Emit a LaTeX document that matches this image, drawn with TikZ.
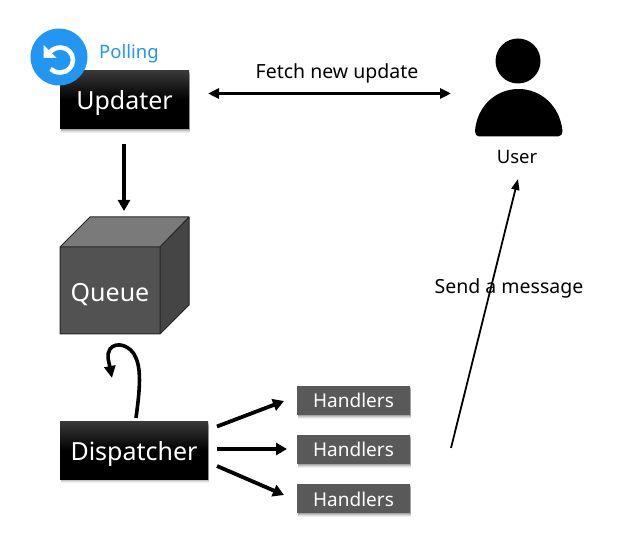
\documentclass[tikz,border=0pt]{standalone}
\usepackage{fontspec}
\setmainfont{Noto Sans}
\usetikzlibrary{arrows.meta,shadows,calc}
\definecolor{poll}{HTML}{2196F3}
\definecolor{hand}{HTML}{595959}
\newcommand{\lowered}[2]{\raisebox{-#1}[0pt][0pt]{#2}}
\tikzset{
  softshadow/.style={
    general shadow={shadow xshift=0.5pt,shadow yshift=-4pt,fill=black,opacity=.06},
    general shadow={shadow xshift=1pt,shadow yshift=-3pt,fill=black,opacity=.08},
    general shadow={shadow xshift=1pt,shadow yshift=-2pt,fill=black,opacity=.12},
    general shadow={shadow xshift=1pt,shadow yshift=-1pt,fill=black,opacity=.16}},
  blackbox/.style={inner sep=0pt,outer sep=0pt,text=white,font=\fontsize{25}{25}\selectfont,top color=black!78,bottom color=black,middle color=black,softshadow},
  handbox/.style={fill=hand,inner sep=0pt,outer sep=0pt,minimum width=113pt,minimum height=29pt,text=white,font=\fontsize{19}{19}\selectfont,softshadow},
  label/.style={inner sep=0pt,font=\fontsize{19.5}{19.5}\selectfont},
  thick arrow/.style={line width=3.8pt,-{Triangle[length=11pt,width=12pt]}},
  thin arrow/.style={line width=1.8pt,-{Triangle[length=11pt,width=8pt]}}
}
\begin{document}
\begin{tikzpicture}[x=1pt,y=-1pt]
\useasboundingbox (0,0) rectangle (627,553);
% Updater
\node[blackbox,minimum width=129pt,minimum height=58pt] (updater) at (124.5,100) {\lowered{10pt}{Updater}};
% Polling icon
\node[circle,fill=poll,minimum size=57pt,inner sep=0pt] (icon) at (59,57) {};
\draw[white,line width=4.6pt] (50.5,69) .. controls (53,71.5) and (56.5,72.5) .. (60.5,72.5) .. controls (67.4,72.5) and (73,66.9) .. (73,60) .. controls (73,53.1) and (67.4,47.5) .. (60.5,47.5) .. controls (56,47.5) and (52,49.5) .. (49,53);
\fill[white] (43.5,45) -- (43.5,58) -- (56.5,58) -- cycle;
\node[label,text=poll] (polling) at (129,52) {\fontsize{18.5}{18.5}\selectfont\lowered{6.5pt}{Polling}};
% Queue cube
\fill[black!52] (90,217) -- (189,217) -- (160,247) -- (60,247) -- cycle;
\fill[black!73] (189,217) -- (189,305) -- (160,334) -- (160,247) -- cycle;
\node[fill=black!68,inner sep=0pt,outer sep=0pt,minimum width=100pt,minimum height=87pt,anchor=north west,text=white,font=\fontsize{25}{25}\selectfont] (queue) at (60,247) {\lowered{11pt}{Queue}};
\draw[black!85,line width=1pt,line join=round] (60,247) -- (90,217) -- (189,217) -- (189,305) -- (160,334) -- (60,334) -- cycle (60,247) -- (160,247) -- (160,334) (160,247) -- (189,217);
% Dispatcher
\node[blackbox,minimum width=148pt,minimum height=57pt] (dispatcher) at (134,450.5) {\lowered{10pt}{Dispatcher}};
% Handlers
\node[handbox] (h1) at (353.5,400.5) {\lowered{7.5pt}{Handlers}};
\node[handbox] (h2) at (353.5,449.5) {\lowered{7.5pt}{Handlers}};
\node[handbox] (h3) at (353.5,498.5) {\lowered{7.5pt}{Handlers}};
% User
\node[circle,fill=black,minimum size=45pt,inner sep=0pt] (head) at (518,61) {};
\fill[black] (475,131) .. controls (477,106) and (496,89) .. (518.5,89) .. controls (541,89) and (560,106) .. (562.5,131) .. controls (562.7,134) and (561,136.5) .. (558,136.5) -- (479,136.5) .. controls (476.5,136.5) and (474.8,134) .. (475,131) -- cycle;
\coordinate (body) at (518.5,136.5);
\node[label] (user) at (517,157) {\fontsize{18.5}{18.5}\selectfont\lowered{7pt}{User}};
% Connectors
\coordinate (uOut) at (124,144);
\coordinate (qIn) at (124,211);
\draw[thick arrow] (uOut) -- (qIn);
\coordinate (fetchL) at (208,93.5);
\coordinate (fetchR) at (451,93.5);
\draw[line width=3pt,{Triangle[length=11pt,width=10pt]}-{Triangle[length=11pt,width=10pt]}] (fetchL) -- (fetchR);
\node[label] (fetch) at (337,72) {\lowered{6.5pt}{Fetch new update}};
\coordinate (dOut) at (136,418);
\coordinate (qBack) at (112,378);
\draw[line width=3.6pt,-{Triangle[length=12pt,width=11pt]}] (dOut) .. controls (139,395) and (142,372) .. (136,358) .. controls (131,345) and (116,341) .. (110,349) .. controls (106,355) and (109,362) .. (qBack);
\coordinate (a1) at (217,426.5); \coordinate (b1) at (284,401);
\coordinate (a2) at (217,449); \coordinate (b2) at (287,449);
\coordinate (a3) at (217,466); \coordinate (b3) at (284,495);
\draw[thick arrow] (a1) -- (b1);
\draw[thick arrow] (a2) -- (b2);
\draw[thick arrow] (a3) -- (b3);
\coordinate (sStart) at (451,448);
\coordinate (sEnd) at (518,179);
\draw[thin arrow] (sStart) -- (sEnd);
\node[label] (send) at (509,287) {\lowered{6.5pt}{Send a message}};
\end{tikzpicture}
\end{document}
